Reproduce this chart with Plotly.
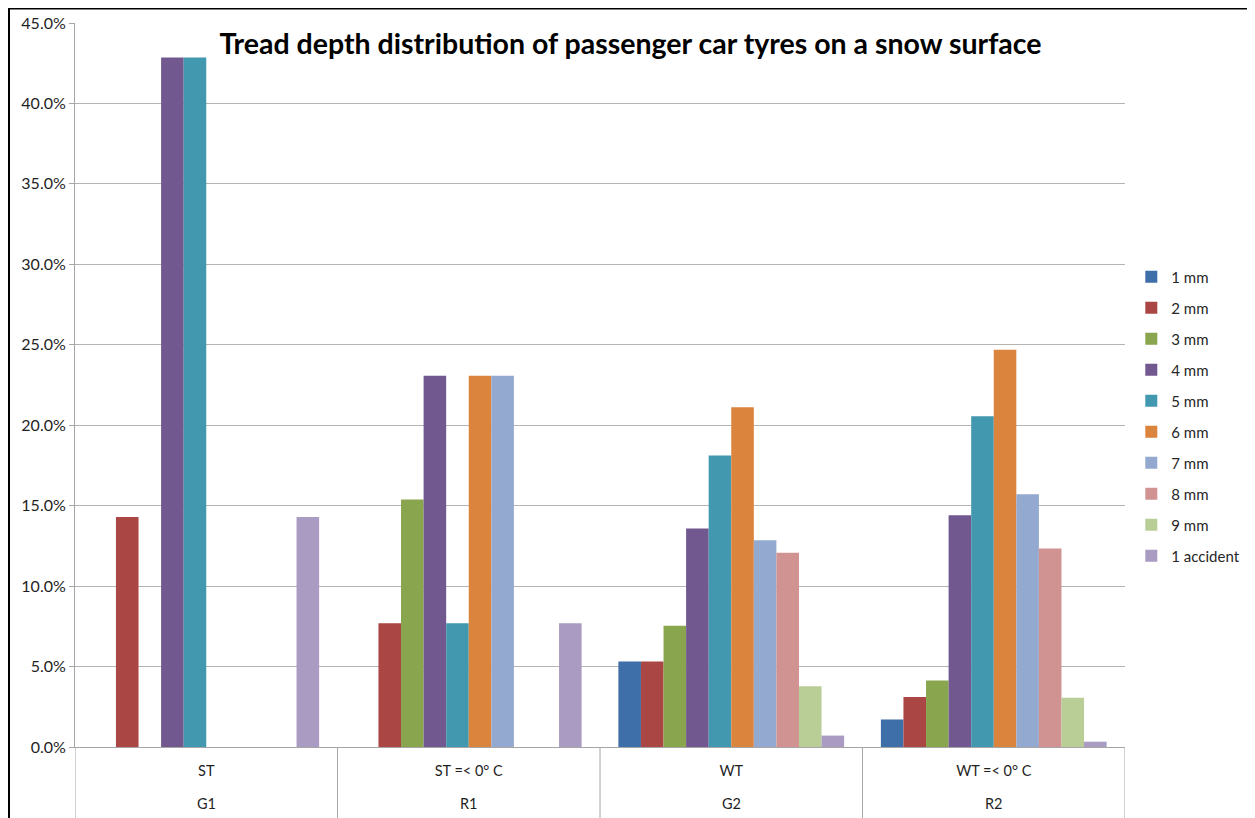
import plotly.graph_objects as go

groups = ["G1", "R1", "G2", "R2"]
conditions = ["ST", "ST =< 0° C", "WT", "WT =< 0° C"]
series_names = ["1 mm", "2 mm", "3 mm", "4 mm", "5 mm", "6 mm", "7 mm", "8 mm", "9 mm", "1 accident"]

v_1mm = [0.0, 0.0, 0.0531, 0.0171]
v_2mm = [0.1429, 0.0769, 0.0531, 0.0310]
v_3mm = [0.0, 0.1538, 0.0754, 0.0414]
v_4mm = [0.4286, 0.2308, 0.1358, 0.1441]
v_5mm = [0.4286, 0.0769, 0.1812, 0.2056]
v_6mm = [0.0, 0.2308, 0.2112, 0.2469]
v_7mm = [0.0, 0.2308, 0.1285, 0.1571]
v_8mm = [0.0, 0.0, 0.1208, 0.1233]
v_9mm = [0.0, 0.0, 0.0377, 0.0306]
v_acc = [0.1429, 0.0769, 0.0071, 0.0033]

values = [v_1mm, v_2mm, v_3mm, v_4mm, v_5mm, v_6mm, v_7mm, v_8mm, v_9mm, v_acc]
colors = ["#3F6FA8", "#AA4643", "#89A54E", "#71588F", "#4198AF",
          "#DB843D", "#93A9CF", "#D19392", "#B9CD96", "#A99BC2"]

FONT = "Lato"
AXIS_GRAY = "#A6A6A6"

# figure is placed by the page with an 8px body margin
W, H = 1247, 810
ML, MT, PW, PH = 67, 15, 1050, 724
MR = W - ML - PW
MB = H - MT - PH

fig = go.Figure()
for name, vals, col in zip(series_names, values, colors):
    fig.add_trace(go.Bar(
        x=conditions, y=vals, name=name,
        marker=dict(color=col, line=dict(width=0)),
        legendgroup=name,
    ))

fig.update_layout(
    width=W, height=H,
    margin=dict(l=ML, r=MR, t=MT, b=MB, autoexpand=False),
    paper_bgcolor="white", plot_bgcolor="white",
    barmode="group", bargap=0.14, bargroupgap=0,
    font=dict(family=FONT, size=15, color="#262626"),
    title=dict(text="<b>Tread depth distribution of passenger car tyres on a snow surface</b>",
               x=0.529, xref="paper", y=1 - 36 / H, yref="container",
               xanchor="center", yanchor="middle",
               font=dict(family=FONT, size=28.5, color="black")),
    legend=dict(x=1.006, xanchor="left", y=0.672, yanchor="top",
                traceorder="grouped", tracegroupgap=8.5,
                bgcolor="rgba(0,0,0,0)",
                font=dict(family=FONT, size=15, color="#262626"),
                itemwidth=30),
    yaxis=dict(range=[0, 0.45], dtick=0.05, tickformat=".1%",
               showgrid=True, gridcolor="#B4B4B4", gridwidth=1,
               showline=True, linecolor=AXIS_GRAY, linewidth=1,
               ticks="outside", ticklen=5, tickcolor=AXIS_GRAY,
               zeroline=False, automargin=False,
               tickfont=dict(size=16, color="#1F1F1F")),
    xaxis=dict(type="category", showline=True, linecolor=AXIS_GRAY, linewidth=1,
               ticks="", automargin=False, ticklabelstandoff=11,
               range=[-0.5, len(conditions) - 0.5],
               tickfont=dict(size=14.5, color="#1F1F1F")),
    showlegend=True,
)

# outer (second-level) category labels
for cond, grp in zip(conditions, groups):
    fig.add_annotation(x=cond, xref="x", y=-56 / PH, yref="paper",
                       text=grp, showarrow=False, xanchor="center", yanchor="middle",
                       font=dict(family=FONT, size=14.5, color="#1F1F1F"))

# category dividers below the axis
for k in range(len(conditions) + 1):
    fig.add_shape(type="line", xref="x", yref="paper",
                  x0=k - 0.5, x1=k - 0.5, y0=0, y1=-(MB + 2) / PH,
                  line=dict(color=AXIS_GRAY, width=1))

# outer chart border
fig.add_shape(type="rect", xref="paper", yref="paper",
              x0=(-ML + 1) / PW, x1=(1242 - ML) / PW,
              y0=-(MB + 5) / PH, y1=1 + (MT - 0.5) / PH,
              line=dict(color="black", width=2), fillcolor="rgba(0,0,0,0)", layer="above")

fig.write_html("out.html")
